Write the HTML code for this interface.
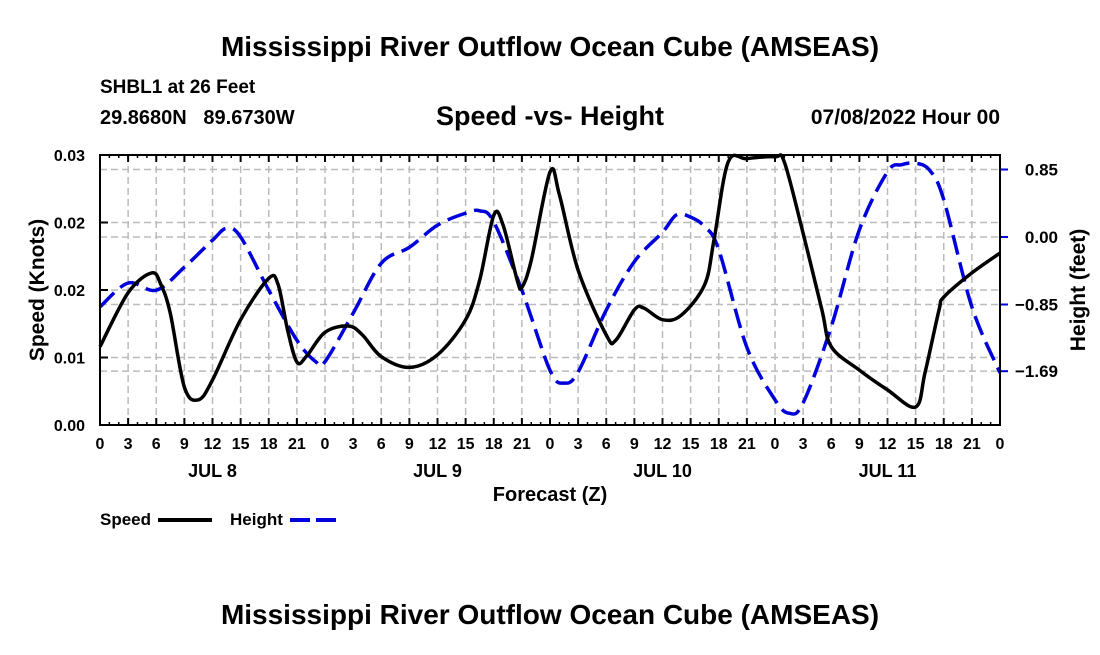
<!DOCTYPE html>
<html><head><meta charset="utf-8"><style>
body{margin:0;background:#fff;width:1100px;height:650px;overflow:hidden;font-family:"Liberation Sans",sans-serif}
</style></head><body>
<svg id="c" width="1100" height="650" xmlns="http://www.w3.org/2000/svg" font-family="Liberation Sans, sans-serif" font-weight="bold">
<text x="550" y="56" font-size="28" text-anchor="middle">Mississippi River Outflow Ocean Cube (AMSEAS)</text>
<text x="100" y="93" font-size="19">SHBL1 at 26 Feet</text>
<text x="100" y="124" font-size="20" xml:space="preserve" style="white-space:pre">29.8680N   89.6730W</text>
<text x="550" y="125" font-size="27" text-anchor="middle">Speed -vs- Height</text>
<text x="1000" y="124" font-size="21" text-anchor="end">07/08/2022 Hour 00</text>
<g id="grid"></g><g id="marks"></g><g id="axes"></g>
<text x="550" y="501" font-size="20" text-anchor="middle">Forecast (Z)</text>
<text transform="translate(44,290) rotate(-90)" font-size="21" text-anchor="middle">Speed (Knots)</text>
<text transform="translate(1085,290) rotate(-90)" font-size="21" text-anchor="middle">Height (feet)</text>
<g>
<text x="100" y="525" font-size="17">Speed</text>
<line x1="158" y1="520" x2="212" y2="520" stroke="#000" stroke-width="4"/>
<text x="230" y="525" font-size="17">Height</text>
<line x1="290" y1="520" x2="342" y2="520" stroke="#0000dd" stroke-width="4" stroke-dasharray="20,6"/>
</g>
<text x="550" y="624" font-size="28" text-anchor="middle">Mississippi River Outflow Ocean Cube (AMSEAS)</text>
</svg>
<script>
const speedT=[0,3,5.5,6.5,7.5,9,10.5,12,15,18,19,20,21,22,24,26.5,28,30,33,36,39,40.5,42,43,44.5,45,46,48,49,51,54,55,57,58,60,62,64.5,65.5,67,69,72,73,75,77,78,81,84,87,88,89.5,90,93,96];
const speedV=[.0087,.0147,.0169,.0156,.0124,.0042,.0028,.005,.0117,.0163,.0156,.0106,.007,.0076,.0103,.011,.01,.0076,.0064,.0078,.0117,.0161,.0233,.0222,.0161,.0153,.0183,.0281,.0256,.0172,.01,.0094,.0128,.013,.0117,.0122,.0156,.0206,.0292,.0296,.0298,.0292,.0213,.0128,.0087,.0061,.0039,.002,.0058,.0128,.0142,.0169,.0191];
const heightT=[0,3,6,9,12,13.5,15,18,21,23,24,27,30,33,36,39,40.5,42,45,48,49.5,51,54,57,60,61.5,63,64.5,66,69,72,73.5,75,78,81,84,85.5,87,88.5,90,93,96];
const heightV=[-0.88,-0.58,-0.67,-0.38,-0.04,0.11,0,-0.67,-1.30,-1.57,-1.57,-0.96,-0.33,-0.13,0.15,0.30,0.33,0.19,-0.67,-1.68,-1.84,-1.70,-0.92,-0.31,0.06,0.28,0.25,0.13,-0.16,-1.39,-2.05,-2.22,-2.09,-1.13,0.09,0.82,0.91,0.93,0.84,0.47,-0.88,-1.71];
const leftTicks=[0,0.0075,0.015,0.0225,0.03];
const leftLabels=["0.00","0.01","0.02","0.02","0.03"];
const rightTicks=[0.85,0,-0.85,-1.69];
const rightLabels=["0.85","0.00","\u22120.85","\u22121.69"];
const hourLabels=["0","3","6","9","12","15","18","21"];
const days=["JUL 8","JUL 9","JUL 10","JUL 11"];
const L=100,R=1000,T=155,B=425;
const x=t=>L+(R-L)*t/96;
const yS=v=>B-(B-T)*v/0.03;
const yH=h=>237-h*79.4;
const NS="http://www.w3.org/2000/svg";
function mk(p,tag,a){const e=document.createElementNS(NS,tag);for(const k in a)e.setAttribute(k,a[k]);p.appendChild(e);return e;}
const grid=document.getElementById('grid'),marks=document.getElementById('marks'),axes=document.getElementById('axes');
for(let i=1;i<32;i++){const l=mk(grid,'line',{x1:x(i*3),x2:x(i*3),y1:T,y2:B,stroke:'#bbb','stroke-width':1.5,'stroke-dasharray':'7,4'});

}
leftTicks.forEach((v,i)=>{const l=mk(grid,'line',{x1:L,x2:R,y1:yS(v),y2:yS(v),stroke:'#bbb','stroke-width':1.5,'stroke-dasharray':'7,4'});


const t=mk(axes,'text',{x:85,y:yS(v)+6,'font-size':16,'text-anchor':'end'});t.textContent=leftLabels[i];


mk(axes,'line',{x1:L,x2:L+8,y1:yS(v),y2:yS(v),stroke:'#000','stroke-width':2});});
rightTicks.forEach((v,i)=>{const l=mk(grid,'line',{x1:L,x2:R,y1:yH(v),y2:yH(v),stroke:'#bbb','stroke-width':1.5,'stroke-dasharray':'7,4'});


mk(axes,'line',{x1:R,x2:R+8,y1:yH(v),y2:yH(v),stroke:'#0000dd','stroke-width':2});
const t=mk(axes,'text',{x:1058,y:yH(v)+6,'font-size':17,'text-anchor':'end'});t.textContent=rightLabels[i];

});
for(let i=0;i<=32;i++){const t=mk(axes,'text',{x:x(i*3),y:449,'font-size':16,'text-anchor':'middle'});t.textContent=i==32?"0":hourLabels[i%8];


mk(axes,'line',{x1:x(i*3),x2:x(i*3),y1:B,y2:B-7,stroke:'#000','stroke-width':2});
mk(axes,'line',{x1:x(i*3),x2:x(i*3),y1:T,y2:T+7,stroke:'#000','stroke-width':2});}
for(let i=0;i<96;i++){mk(axes,'line',{x1:x(i),x2:x(i),y1:B,y2:B-3,stroke:'#000','stroke-width':1.5});mk(axes,'line',{x1:x(i),x2:x(i),y1:T,y2:T+3,stroke:'#000','stroke-width':1.5});}
days.forEach((d,i)=>{const t=mk(axes,'text',{x:x(12+24*i),y:477,'font-size':18,'text-anchor':'middle'});t.textContent=d;

});
const fr=mk(axes,'rect',{x:L,y:T,width:R-L,height:B-T,fill:'none',stroke:'#000','stroke-width':2});


function path(ts,vs,fy){const p=ts.map((t,i)=>[x(t),fy(vs[i])]);let d='M'+p[0][0]+','+p[0][1];
for(let i=0;i<p.length-1;i++){const p0=p[Math.max(0,i-1)],p1=p[i],p2=p[i+1],p3=p[Math.min(p.length-1,i+2)];
const c1=[p1[0]+(p2[0]-p0[0])/6,p1[1]+(p2[1]-p0[1])/6],c2=[p2[0]-(p3[0]-p1[0])/6,p2[1]-(p3[1]-p1[1])/6];
d+=`C${c1[0]},${c1[1]} ${c2[0]},${c2[1]} ${p2[0]},${p2[1]}`;}return d;}
const hp=mk(marks,'path',{d:path(heightT,heightV,yH),fill:'none',stroke:'#0000dd','stroke-width':3.5,'stroke-dasharray':'20,8'});


const sp=mk(marks,'path',{d:path(speedT,speedV,yS),fill:'none',stroke:'#000','stroke-width':3.5});


</script>
</body></html>
